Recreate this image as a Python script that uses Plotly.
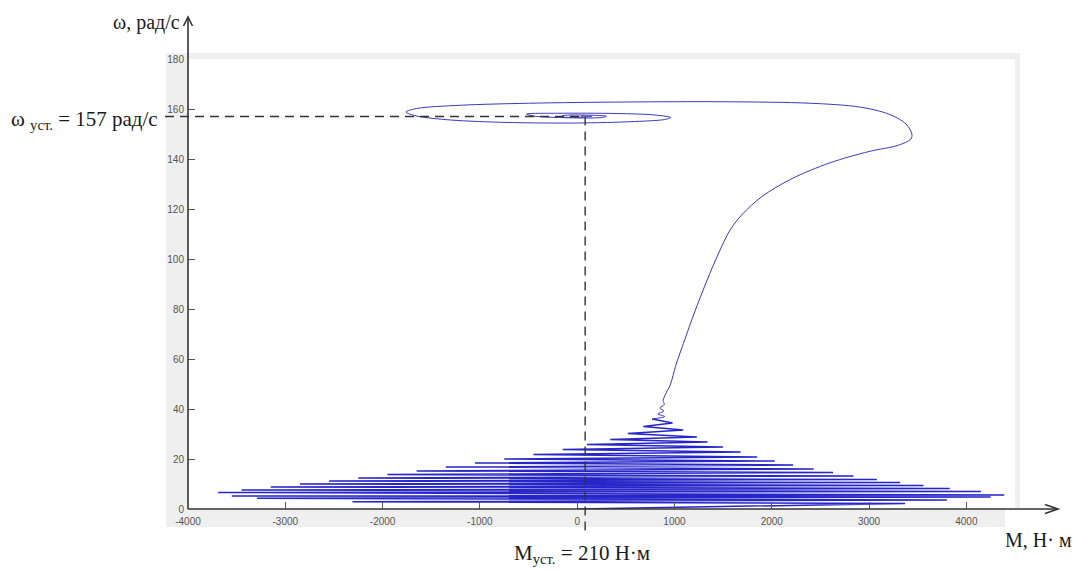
import plotly.graph_objects as go

# ---- data ----
# start-up oscillations (turning points of the torque/speed trajectory)
osc_M = [0, 3370, -2310, 3800, -3290, 4250, -3550, 4390, -3690,
         4150, -3450, 3830, -3150, 3560, -2850, 3320, -2550, 3080, -2250,
         2840, -1950, 2630, -1650, 2430, -1350, 2220, -1050, 2030, -750,
         1850, -450, 1680, -150, 1500, 100, 1340, 340, 1230, 520,
         1090, 680, 980, 770]
osc_w = [0, 2.2, 2.9, 3.6, 4.3, 4.8, 5.2, 5.6, 6.6,
         7.0, 7.6, 8.2, 8.8, 9.4, 10.0, 10.6, 11.2, 11.8, 12.4,
         13.2, 13.8, 14.6, 15.2, 16.0, 16.8, 17.6, 18.4, 19.2, 20.0,
         20.8, 21.8, 22.8, 23.8, 24.8, 25.8, 26.8, 27.8, 28.8, 30.2,
         31.6, 33.0, 34.4, 36.0]

# acceleration branch and final spiral to the steady state
rise_M = [770, 900, 830, 890, 850, 895, 884, 960, 1010, 1079, 1200, 1336, 1450,
          1572, 1700, 1900, 2200, 2600, 3000, 3300, 3430, 3440, 3380, 3200, 2900,
          2400, 1500, 500, -500, -1200, -1650, -1760, -1650, -1300, -700, 0,
          600, 900, 960, 800, 400, -200, -520, -450, -100, 250, 300, 150,
          -150, -160, 100, 150, 40, 60]
rise_w = [36.0, 37.0, 38.0, 39.2, 40.4, 41.8, 43.5, 50, 57, 64.8, 78, 91.6, 102,
          111.6, 118, 125, 132, 138.5, 143, 145.5, 148, 150, 154, 158, 160.8,
          162.3, 162.9, 162.8, 162.3, 161.5, 160.2, 158.8, 157.2, 155.6, 154.6,
          154.4, 155, 155.8, 156.6, 157.6, 158.2, 158.3, 158, 157.2, 156.5,
          156.6, 157.1, 157.5, 157.3, 156.9, 156.8, 157.1, 157.2, 157]

x_range = [-4000, 4500]
y_range = [0, 180]
x_ticks = [-4000, -3000, -2000, -1000, 0, 1000, 2000, 3000, 4000]
y_ticks = [0, 20, 40, 60, 80, 100, 120, 140, 160, 180]

w_steady = 157      # steady-state speed marker
M_marker = 82       # position of the vertical dashed marker

# ---- layout geometry (pixels) ----
W, H = 1076, 573
L, R, T, B = 188, 1015, 59, 509
PW, PH = R - L, B - T


def fx(px):
    return (px - L) / PW


def fy(py):
    return (B - py) / PH


def dx(v):
    return (v - x_range[0]) / (x_range[1] - x_range[0])


def dy(v):
    return (v - y_range[0]) / (y_range[1] - y_range[0])


line_col = "#2626c8"

fig = go.Figure()
fig.add_trace(go.Scatter(x=osc_M, y=osc_w, mode="lines",
                         line=dict(color=line_col, width=1.5), hoverinfo="skip"))
fig.add_trace(go.Scatter(x=rise_M, y=rise_w, mode="lines",
                         line=dict(color="#3a3ab8", width=1, shape="spline", smoothing=0.9),
                         hoverinfo="skip"))

grey = "#efefef"
shapes = []
# grey figure frame strips (MATLAB figure background)
for (x0, y0, x1, y1) in [(166, 53, L, 527), (L, 509, 1005, 527), (L, 53, 1020, T), (R, 53, 1020, 509)]:
    shapes.append(dict(type="rect", xref="paper", yref="paper", layer="below",
                       x0=fx(x0), x1=fx(x1), y0=fy(y0), y1=fy(y1),
                       fillcolor=grey, line=dict(width=0)))

axis_col = "#333333"
# axis lines with arrows
shapes.append(dict(type="line", xref="paper", yref="paper", x0=fx(L), y0=fy(B), x1=fx(L), y1=fy(18),
                   line=dict(color=axis_col, width=1.6)))
shapes.append(dict(type="path", xref="paper", yref="paper",
                   path=f"M {fx(183.5)} {fy(26)} L {fx(L)} {fy(17)} L {fx(192.5)} {fy(26)}",
                   line=dict(color=axis_col, width=1.6)))
shapes.append(dict(type="line", xref="paper", yref="paper", x0=fx(L), y0=fy(B), x1=fx(1057), y1=fy(B),
                   line=dict(color=axis_col, width=1.6)))
shapes.append(dict(type="path", xref="paper", yref="paper",
                   path=f"M {fx(1045)} {fy(504.5)} L {fx(1058)} {fy(B)} L {fx(1045)} {fy(513.5)}",
                   line=dict(color=axis_col, width=1.6)))

dash_style = "9px,6px"
# horizontal dashed marker at steady speed
shapes.append(dict(type="line", xref="paper", yref="paper",
                   x0=fx(165), x1=dx(M_marker), y0=dy(w_steady), y1=dy(w_steady),
                   line=dict(color="#333333", width=1.4, dash=dash_style)))
# vertical dashed marker
shapes.append(dict(type="line", xref="paper", yref="paper",
                   x0=dx(M_marker), x1=dx(M_marker), y0=dy(w_steady), y1=fy(531),
                   line=dict(color="#333333", width=1.4, dash=dash_style)))

serif = "Liberation Serif, Times New Roman, serif"
annotations = [
    dict(text="ω, рад/с", x=fx(182), y=fy(23), xanchor="right", yanchor="middle", size=20),
    dict(text="ω <sub>уст.</sub> = 157 рад/с", x=fx(9), y=fy(120), xanchor="left", yanchor="middle", size=21),
    dict(text="M<sub>уст.</sub> = 210 Н·м", x=fx(512), y=fy(554), xanchor="left", yanchor="middle", size=21),
    dict(text="M, Н· м", x=fx(1003), y=fy(540), xanchor="left", yanchor="middle", size=20),
]
for a in annotations:
    s = a.pop("size")
    a.update(xref="paper", yref="paper", showarrow=False,
             font=dict(family=serif, size=s, color="#1a1a1a"))

tick_font = dict(family="Liberation Sans, Arial, sans-serif", size=10, color="#555555")

fig.update_layout(
    width=W, height=H, autosize=False,
    margin=dict(l=L, r=W - R, t=T, b=H - B, pad=0),
    paper_bgcolor="white", plot_bgcolor="white",
    showlegend=False,
    shapes=shapes, annotations=annotations,
    xaxis=dict(range=x_range, tickvals=x_ticks, ticktext=[str(v) for v in x_ticks],
               showgrid=False, zeroline=False, showline=False,
               ticks="inside", ticklen=7, tickwidth=1.3, tickcolor="#555555",
               ticklabelstandoff=5,
               tickfont=tick_font, fixedrange=True),
    yaxis=dict(range=y_range, tickvals=y_ticks, ticktext=[str(v) for v in y_ticks],
               showgrid=False, zeroline=False, showline=False,
               ticks="inside", ticklen=7, tickwidth=1.3, tickcolor="#555555",
               ticklabelstandoff=3,
               tickfont=tick_font, fixedrange=True),
)

fig.write_html("out.html", config={"displayModeBar": False},
               post_script="document.body.style.margin='0';document.body.style.overflow='hidden';")
